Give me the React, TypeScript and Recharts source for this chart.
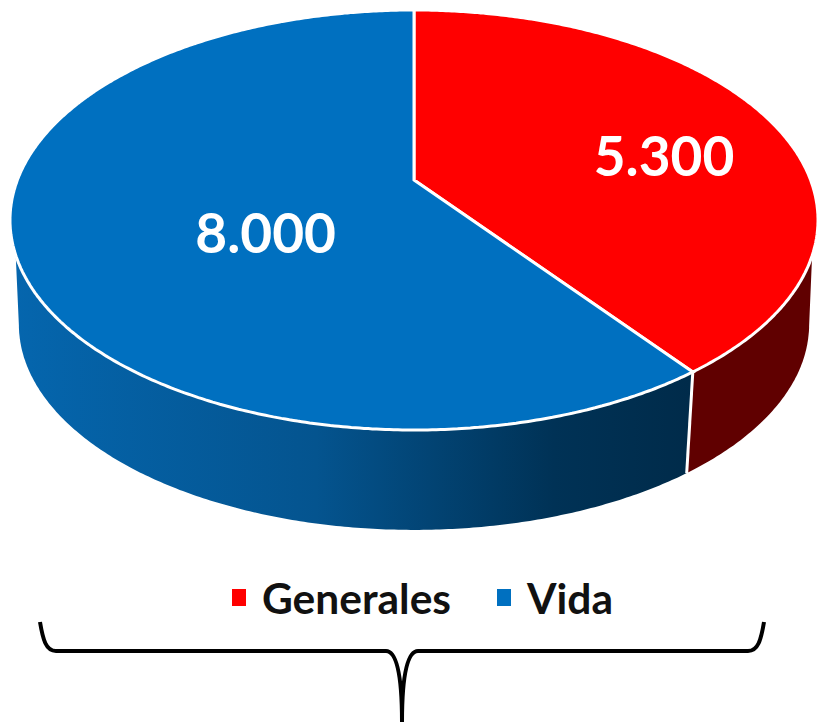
import React from 'react';
import { PieChart, Pie, Legend, Customized } from 'recharts';

const categories = ['Generales', 'Vida'];
const values = [5300, 8000];
const colors = ['#ff0000', '#0070c0'];
const wallColors = ['#600000', 'url(#wallBlue)'];

const pieData = categories.map((name, i) => ({ name, value: values[i], fill: colors[i], wall: wallColors[i] }));

// perspective of the tilted disc
const SQUASH = 210 / 404;
const NEAR = 40 / 210; // how far the disc centre moves up on screen
const VANISH_Y = 4970; // side walls converge here
const WALL_SCALE = 0.978;
const WALL_TOP_LIMIT = 254;

const project = (cx: number, cy: number, r: number, deg: number, frac = 1) => {
  const a = (deg * Math.PI) / 180;
  const u = Math.cos(a) * frac;
  const v = -Math.sin(a) * frac;
  const d = 1 - NEAR * v;
  return {
    x: cx + (r * Math.sqrt(1 - NEAR * NEAR) * u) / d,
    y: cy + (r * SQUASH * (v - NEAR)) / d,
  };
};

const drop = (p: { x: number; y: number }, cx: number) => ({
  x: cx + (p.x - cx) * WALL_SCALE,
  y: VANISH_Y + (p.y - VANISH_Y) * WALL_SCALE,
});

const arcPoints = (cx: number, cy: number, r: number, from: number, to: number) => {
  const steps = Math.max(2, Math.ceil(Math.abs(to - from) * 2));
  const pts = [];
  for (let i = 0; i <= steps; i++) pts.push(project(cx, cy, r, from + ((to - from) * i) / steps));
  return pts;
};

const toPath = (pts: { x: number; y: number }[]) =>
  pts.map((p, i) => `${i ? 'L' : 'M'}${p.x.toFixed(1)} ${p.y.toFixed(1)}`).join(' ');

const TopFace = (props: any) => {
  const { cx, cy, outerRadius, startAngle, endAngle, fill } = props;
  const apex = project(cx, cy, outerRadius, 0, 0);
  const d = toPath([apex, ...arcPoints(cx, cy, outerRadius, startAngle, endAngle)]) + ' Z';
  return <path d={d} fill={fill} stroke="#ffffff" strokeWidth={3} strokeLinejoin="miter" />;
};

const WallFace = (props: any) => {
  const { cx, cy, outerRadius, startAngle, endAngle, payload } = props;
  const arc = arcPoints(cx, cy, outerRadius, startAngle, endAngle);
  const bottomCentre = drop({ x: cx, y: cy + outerRadius * SQUASH }, cx).y - outerRadius * SQUASH * WALL_SCALE;
  const top = arc.filter((p) => p.y >= WALL_TOP_LIMIT);
  const bottom = arc.map((p) => drop(p, cx)).filter((p) => p.y >= bottomCentre).reverse();
  const first = project(cx, cy, outerRadius, startAngle);
  return (
    <g>
      <path d={toPath([...top, ...bottom]) + ' Z'} fill={payload?.wall ?? props.wall} stroke="none" />
      <path d={toPath([first, drop(first, cx)])} stroke="#ffffff" strokeWidth={3} fill="none" />
    </g>
  );
};

const labelSpots = [
  { frac: 0.7, dx: -3, dy: 18 },
  { frac: 0.4, dx: 6, dy: 26 },
];

const fmt = (n: number) => n.toLocaleString('de-DE');

const renderLabel = (props: any) => {
  const { cx, cy, outerRadius, midAngle, value, index } = props;
  const spot = labelSpots[index];
  const p = project(cx, cy, outerRadius, midAngle, spot.frac);
  return (
    <text x={p.x + spot.dx} y={p.y + spot.dy} fill="#ffffff" textAnchor="middle" dominantBaseline="central"
      style={{ fontFamily: 'Lato', fontWeight: 700, fontSize: 55 }}>
      {fmt(value)}
    </text>
  );
};

const Brace = () => (
  <path
    d="M40 622 C43 640 46 651 56 651 L386 651 C396 651 402 672 402 722 C402 672 408 651 418 651 L748 651 C758 651 761 640 764 622"
    fill="none" stroke="#000000" strokeWidth={4}
  />
);

const LegendRow = ({ payload }: any) => {
  // both Pie layers report entries, keep one per category
  const items = categories.map((name) => (payload || []).find((p: any) => p.value === name)).filter(Boolean);
  return (
    <div style={{ display: 'flex', alignItems: 'center', fontFamily: 'Lato', fontWeight: 700, fontSize: 42.5, color: '#111' }}>
      {items.map((p: any, i: number) => (
        <div key={p.value} style={{ display: 'flex', alignItems: 'center', marginRight: i === 0 ? 46 : 0 }}>
          <span style={{ width: 14, height: 17, background: p.color, marginRight: 16, display: 'inline-block' }} />
          <span>{p.value}</span>
        </div>
      ))}
    </div>
  );
};

export default function App() {
  return (
    <div style={{ position: 'absolute', left: 0, top: 0, background: '#fff' }}>
      <PieChart width={817} height={722} margin={{ top: 0, right: 0, bottom: 0, left: 0 }}>
        <defs>
          <linearGradient id="wallBlue" gradientUnits="userSpaceOnUse" x1="10" y1="0" x2="690" y2="0">
            <stop offset="0" stopColor="#0566ae" />
            <stop offset="0.45" stopColor="#04548f" />
            <stop offset="0.8" stopColor="#003256" />
            <stop offset="1" stopColor="#002b4a" />
          </linearGradient>
        </defs>
        <Pie data={pieData} dataKey="value" nameKey="name" cx={414} cy={220} outerRadius={404}
          startAngle={90} endAngle={-270} shape={WallFace} legendType="none" stroke="none" isAnimationActive={false} />
        <Pie data={pieData} dataKey="value" nameKey="name" cx={414} cy={220} outerRadius={404}
          startAngle={90} endAngle={-270} shape={TopFace} label={renderLabel} labelLine={false} stroke="none" isAnimationActive={false} />
        <Legend content={<LegendRow />} wrapperStyle={{ position: 'absolute', left: 232, top: 572, width: 'auto' }} />
        <Customized component={Brace} />
      </PieChart>
    </div>
  );
}
